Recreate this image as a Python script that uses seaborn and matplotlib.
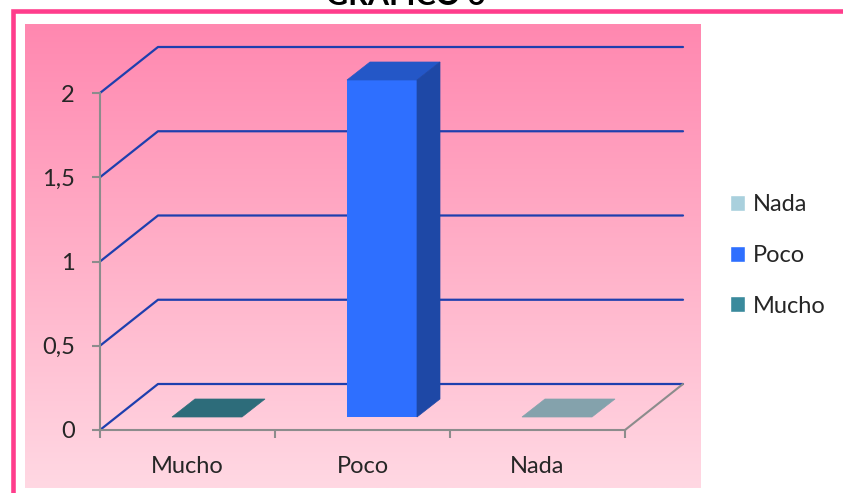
import numpy as np
import matplotlib.pyplot as plt
import seaborn as sns
from matplotlib.patches import Patch, Polygon, Rectangle
from matplotlib.transforms import Affine2D
from matplotlib.colors import LinearSegmentedColormap

# datos del gráfico
categorias = ['Mucho', 'Poco', 'Nada']
valores = [0, 2, 0]
colores = ['#3A8A9C', '#2E6FFF', '#A9D0DD']
y_ticks = [0, 0.5, 1, 1.5, 2]
y_labels = ['0', '0,5', '1', '1,5', '2']
titulo = 'GRAFICO 6'

sns.set_style('white')
plt.rcParams['font.family'] = ['Lato', 'DejaVu Sans']

W, H = 843, 493
fig = plt.figure(figsize=(W / 100, H / 100), dpi=100)

# area del grafico en pixeles
px_l, px_r, px_t, px_b = 25, 701, 24, 488
ax = fig.add_axes([px_l / W, 1 - px_b / H, (px_r - px_l) / W, (px_b - px_t) / H])

# escala: x=-0.5 -> 100px, 175 px por categoria; y=0 -> 430px, 168.5 px por unidad
x0px, xu = 100, 175
y0px, yu = 430, 168.5
xlim = ((px_l - x0px) / xu - 0.5, (px_r - x0px) / xu - 0.5)
ylim = ((y0px - px_b) / yu, (y0px - px_t) / yu)

# vectores de profundidad (efecto 3D)
DX, DY = 58 / xu, 46 / yu      # fondo del suelo
FX, FY = 19.5 / xu, 13 / yu    # cara frontal de las barras
BX, BY = 23 / xu, 18 / yu      # grosor de las barras

gris = '#8C8C8C'
azul = '#1E3FAE'

# fondo degradado
grad = np.linspace(0, 1, 256).reshape(-1, 1)
cmap = LinearSegmentedColormap.from_list('fondo', ['#FFD8E3', '#FFB0C8', '#FF88B0'])
ax.imshow(grad, cmap=cmap, origin='lower', aspect='auto',
          extent=(xlim[0], xlim[1], ylim[0], ylim[1]), zorder=0)

# lineas de cuadricula (pared trasera)
for v in y_ticks:
    ax.plot([-0.5, -0.5 + DX, 2.5 + DX], [v, v + DY, v + DY], color=azul, lw=1.6, zorder=1)
ax.plot([2.5, 2.5 + DX], [0, DY], color=gris, lw=1.5, zorder=1)

sns.barplot(x=categorias, y=valores, hue=categorias, palette=colores, width=0.4,
            saturation=1, legend=False, ax=ax, zorder=3)

shift = Affine2D().translate(FX, FY) + ax.transData
for p in list(ax.patches):
    x, w, h = p.get_x(), p.get_width(), p.get_height()
    c = np.array(p.get_facecolor()[:3])
    p.set_transform(shift)
    p.set_linewidth(0)
    top = Polygon([(x, h), (x + w, h), (x + w + BX, h + BY), (x + BX, h + BY)],
                  closed=True, facecolor=c * 0.78, edgecolor=c * 0.78, lw=0.5,
                  transform=shift, zorder=3)
    ax.add_patch(top)
    if h > 0:
        side = Polygon([(x + w, 0), (x + w, h), (x + w + BX, h + BY), (x + w + BX, BY)],
                       closed=True, facecolor=c * 0.65, edgecolor=c * 0.65, lw=0.5,
                       transform=shift, zorder=3)
        ax.add_patch(side)

ax.set_xlim(*xlim)
ax.set_ylim(*ylim)
ax.set_xlabel('')
ax.set_ylabel('')

for s in ['top', 'right']:
    ax.spines[s].set_visible(False)
ax.spines['left'].set_position(('data', -0.5))
ax.spines['left'].set_bounds(0, 2)
ax.spines['bottom'].set_position(('data', 0))
ax.spines['bottom'].set_bounds(-0.5, 2.5)
for s in ['left', 'bottom']:
    ax.spines[s].set_color(gris)
    ax.spines[s].set_linewidth(1.5)
    ax.spines[s].set_zorder(2)

ax.set_yticks(y_ticks, y_labels)
ax.set_xticks([-0.5, 0.5, 1.5, 2.5], ['', '', '', ''])
ax.set_xticks(np.arange(len(categorias)), categorias, minor=True)
ax.tick_params(axis='y', left=True, length=6, width=1.5, color=gris, pad=12, labelsize=17)
ax.tick_params(axis='x', which='major', bottom=True, length=6, width=1.5, color=gris)
ax.tick_params(axis='x', which='minor', bottom=True, length=0, pad=19, labelsize=17)

# leyenda
handles = [Patch(facecolor=c, label=l) for l, c in zip(categorias, colores)][::-1]
fig.legend(handles=handles, loc='center left', bbox_to_anchor=(730 / W, 1 - 255.5 / H),
           frameon=False, fontsize=17, handlelength=0.65, handleheight=0.65,
           handletextpad=0.3, labelspacing=1.25, borderpad=0, borderaxespad=0)

# titulo (cortado en el borde superior)
fig.text(405.5 / W, 1 - 5 / H, titulo, ha='center', va='baseline',
         fontsize=22, fontweight='bold', color='black')

# marco rosa
fig.add_artist(Rectangle((12.5 / W, -0.5), 2, 0.5 + 1 - 11 / H, transform=fig.transFigure,
                         fill=False, edgecolor='#FF3D8C', lw=3.3, clip_on=False))

fig.savefig('out.png', dpi=100)
